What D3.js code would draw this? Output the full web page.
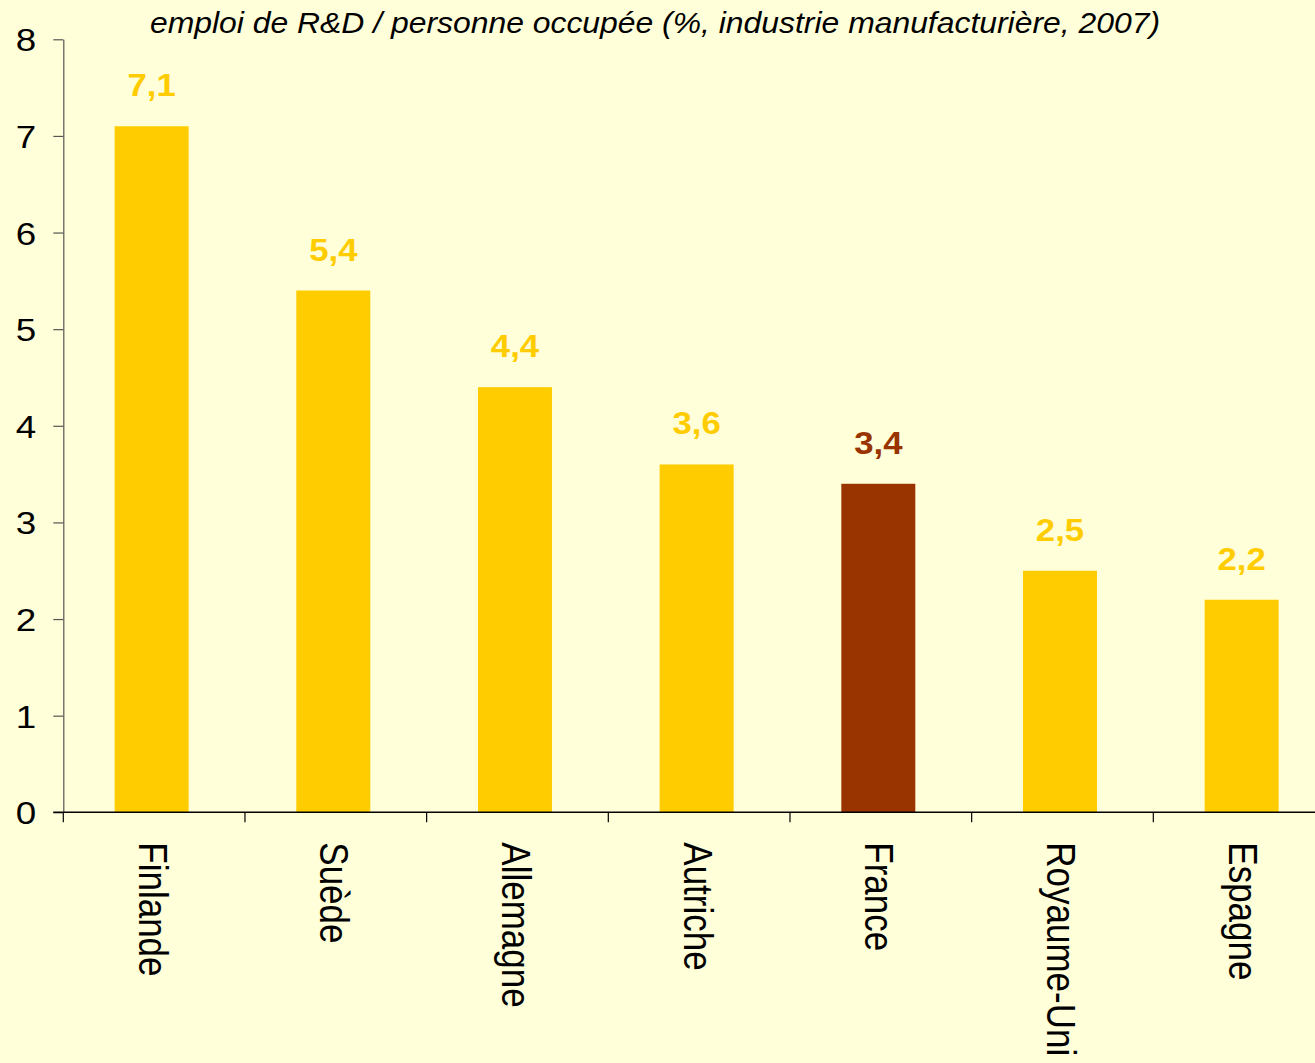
<!DOCTYPE html>
<html>
<head>
<meta charset="utf-8">
<script src="https://cdn.jsdelivr.net/npm/d3@7"></script>
<style>
  html, body { margin: 0; padding: 0; background: #FFFFD9; overflow: hidden; }
  svg { display: block; font-family: Arial, "Liberation Sans", sans-serif; }
</style>
</head>
<body>
<div id="chart"></div>
<script>
// données
var pays = ["Finlande", "Suède", "Allemagne", "Autriche", "France", "Royaume-Uni", "Espagne"];
var valeurs = [7.1, 5.4, 4.4, 3.6, 3.4, 2.5, 2.2];
var yTicks = [0, 1, 2, 3, 4, 5, 6, 7, 8];
var titre = "emploi de R&D / personne occupée (%, industrie manufacturière, 2007)";

var W = 1315, H = 1063;
var plotLeft = 63.3, plotTop = 39.3, plotBottom = 812.3;
var bandW = 181.67;
var stretch = 1.15; // le graphique d'origine est étiré horizontalement

var jaune = "#FFCC00", brun = "#993300";

var svg = d3.select("#chart")
    .append("svg")
    .attr("width", W)
    .attr("height", H);

svg.append("rect")
    .attr("width", W).attr("height", H)
    .attr("fill", "#FFFFD9");

// Scales
var x = d3.scaleBand()
    .domain(pays)
    .range([plotLeft, plotLeft + bandW * pays.length])
    .paddingInner(0)
    .paddingOuter(0);

var y = d3.scaleLinear()
    .domain([0, 8])
    .range([plotBottom, plotTop]);

var barW = 74;

// Bars
svg.append("g").selectAll("rect")
    .data(valeurs)
    .enter()
    .append("rect")
    .attr("x", function(d, i) { return x(pays[i]) + (x.bandwidth() - barW) / 2 - 2.5; })
    .attr("width", barW)
    .attr("y", function(d) { return y(d); })
    .attr("height", function(d) { return y(0) - y(d); })
    .attr("fill", function(d, i) { return pays[i] == "France" ? brun : jaune; });

// Value labels
svg.append("g").selectAll("text")
    .data(valeurs)
    .enter()
    .append("text")
    .attr("transform", function(d, i) {
        return "translate(" + (x(pays[i]) + x.bandwidth() / 2 - 2.5) + "," + (y(d) - 30) + ") scale(1.14,1)";
    })
    .attr("text-anchor", "middle")
    .attr("font-size", 30.5)
    .attr("font-weight", "bold")
    .attr("fill", function(d, i) { return pays[i] == "France" ? brun : jaune; })
    .text(function(d) { return d3.format(".1f")(d).replace(".", ","); });

// Y axis
var yAxis = svg.append("g")
    .attr("transform", "translate(" + plotLeft + ",0)")
    .call(d3.axisLeft(y).tickValues(yTicks).tickSize(10).tickPadding(0).tickSizeOuter(0));
yAxis.select(".domain").attr("stroke", "#555").attr("stroke-width", 1.2);
yAxis.selectAll(".tick line").attr("stroke", "#555").attr("stroke-width", 1.2);
yAxis.selectAll(".tick text")
    .attr("x", null)
    .attr("transform", "translate(-27,0) scale(" + stretch + ",1)")
    .attr("font-size", 32)
    .attr("font-family", "Arial, 'Liberation Sans', sans-serif")
    .attr("fill", "#000")
    .attr("dy", "0.36em");

// X axis
var xAxis = svg.append("g")
    .attr("transform", "translate(0," + plotBottom + ")");
xAxis.append("line")
    .attr("x1", plotLeft - 10).attr("x2", W)
    .attr("y1", 0).attr("y2", 0)
    .attr("stroke", "#000").attr("stroke-width", 1.5);

var bornes = pays.map(function(p) { return x(p); });
xAxis.selectAll("line.tk")
    .data(bornes)
    .enter()
    .append("line")
    .attr("class", "tk")
    .attr("x1", function(d) { return d; }).attr("x2", function(d) { return d; })
    .attr("y1", 0).attr("y2", 10)
    .attr("stroke", "#000").attr("stroke-width", 1.2);

xAxis.selectAll("text")
    .data(pays)
    .enter()
    .append("text")
    .attr("transform", function(d) {
        return "translate(" + (x(d) + x.bandwidth() / 2 - 1) + ",30) scale(" + stretch + ",1) rotate(90)";
    })
    .attr("dy", "0.36em")
    .attr("text-anchor", "start")
    .attr("font-size", 35)
    .attr("fill", "#000")
    .text(function(d) { return d; });

// Title
svg.append("text")
    .attr("x", 150)
    .attr("y", 33)
    .attr("font-size", 29)
    .attr("font-style", "italic")
    .attr("fill", "#000")
    .attr("textLength", 1010)
    .attr("lengthAdjust", "spacingAndGlyphs")
    .text(titre);
</script>
</body>
</html>
